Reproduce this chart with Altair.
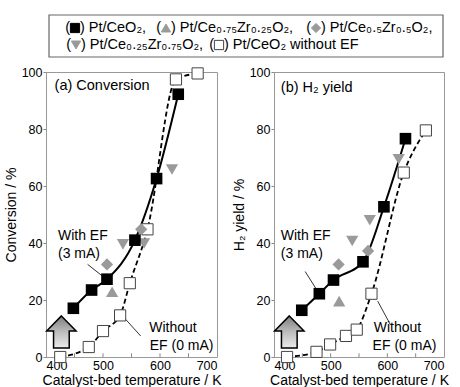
import altair as alt
import pandas as pd

FONT = "Liberation Sans"

# ---------------- data ----------------
# Panel (a) conversion
a_ef_t = [448, 480, 507, 556, 594, 632]
a_ef_v = [17.1, 23.5, 27.3, 41.0, 62.6, 92.2]
a_no_t = [425, 475, 500, 530, 547, 578, 628, 666]
a_no_v = [0.0, 3.5, 9.1, 14.6, 25.9, 44.8, 97.4, 99.5]
a_up_t = [516]
a_up_v = [22.9]
a_dia_t = [507, 567]
a_dia_v = [32.5, 44.8]
a_dn_t = [535, 572, 621]
a_dn_v = [39.5, 39.8, 65.8]

# Panel (b) H2 yield
b_ef_t = [449, 480, 505, 557, 594, 632]
b_ef_v = [16.4, 22.2, 27.0, 33.4, 52.7, 76.6]
b_no_t = [423, 475, 499, 527, 546, 572, 629, 668]
b_no_v = [0.0, 1.8, 4.4, 7.4, 9.6, 22.2, 64.7, 79.5]
b_up_t = [515]
b_up_v = [19.6]
b_dia_t = [514, 566]
b_dia_v = [32.5, 37.2]
b_dn_t = [538, 569, 620]
b_dn_v = [40.7, 48.0, 69.4]

x_ticks = [400, 500, 600, 700]
x_minor = [450, 500, 550, 600, 650]
y_ticks = [0, 20, 40, 60, 80, 100]
x_title = "Catalyst-bed temperature / K"

# annotations (text, T, value)
a_texts = ["(a) Conversion", "With EF", "(3 mA)", "Without", "EF (0 mA)"]
a_text_t = [415, 421, 421, 581, 582]
a_text_v = [95.0, 42.5, 36.1, 10.2, 3.9]
a_lead = [(473, 32.5, 499, 28.4), (537, 13.8, 566, 7.4)]

b_texts = ["(b) H\u2082 yield", "With EF", "(3 mA)", "Without", "EF (0 mA)"]
b_text_t = [412, 412, 412, 576, 574]
b_text_v = [94.4, 42.5, 36.1, 10.2, 3.9]
b_lead = [(455, 30.0, 475, 23.7), (583, 19.6, 605, 11.5)]

arrow_t = [427]
arrow_v = [8.8]

# legend entries
leg_shape = ["square", "triangle-up", "diamond", "triangle-down", "square"]
leg_fill = ["black", "#9a9a9a", "#9a9a9a", "#9a9a9a", "white"]
leg_stroke = ["black", "#9a9a9a", "#9a9a9a", "#9a9a9a", "#444"]
leg_labels = [") Pt/CeO\u2082,", ") Pt/Ce\u2080.\u2087\u2085Zr\u2080.\u2082\u2085O\u2082,",
              ") Pt/Ce\u2080.\u2085Zr\u2080.\u2085O\u2082,", ") Pt/Ce\u2080.\u2082\u2085Zr\u2080.\u2087\u2085O\u2082,",
              ") Pt/CeO\u2082 without EF"]
# legend layout (pixels relative to panel (a) plot origin)
leg_px = [29, 120, 270, 30, 173]
leg_py = [-44, -44, -44, -27, -27]

ARROW = "M0,-1 L0.92,-0.06 L0.49,-0.06 L0.49,1 L-0.49,1 L-0.49,-0.06 L-0.92,-0.06 Z"
GREY = "#9a9a9a"


def df(t, v):
    return pd.DataFrame({"T": t, "V": v})


def legend_layers():
    layers = []
    layers.append(alt.Chart(pd.DataFrame({"a": [0]})).mark_rect(
        fill="white", stroke="#666", strokeWidth=1.2).encode(
        x=alt.value(3), x2=alt.value(397), y=alt.value(-57), y2=alt.value(-15)))
    for i in range(len(leg_shape)):
        base = alt.Chart(pd.DataFrame({"a": [0]}))
        layers.append(base.mark_point(shape=leg_shape[i], filled=True, fill=leg_fill[i],
                                      stroke=leg_stroke[i], strokeWidth=1, size=85, opacity=1).encode(
            x=alt.value(leg_px[i]), y=alt.value(leg_py[i])))
        layers.append(base.mark_text(text="(", align="right", baseline="middle", fontSize=14.5,
                                     font=FONT, color="black").encode(
            x=alt.value(leg_px[i] - 5), y=alt.value(leg_py[i])))
        layers.append(base.mark_text(text=leg_labels[i], align="left", baseline="middle",
                                     fontSize=14.5, font=FONT, color="black").encode(
            x=alt.value(leg_px[i] + 5), y=alt.value(leg_py[i])))
    return layers


def panel(ef_t, ef_v, no_t, no_v, up_t, up_v, dia_t, dia_v, dn_t, dn_v,
          ytitle, texts, text_t, text_v, leads, width, with_legend=False):
    xenc = alt.X("T:Q", scale=alt.Scale(domain=[400, 700], nice=False, zero=False),
                 axis=alt.Axis(values=x_ticks, title=x_title, ticks=False, labelPadding=2,
                               titlePadding=2, domain=False, grid=False,
                               labelFontSize=12.5, titleFontSize=14, titleFontWeight="normal",
                               labelColor="black", titleColor="black", labelFont=FONT,
                               titleFont=FONT))
    yenc = alt.Y("V:Q", scale=alt.Scale(domain=[0, 100], nice=False, zero=False),
                 axis=alt.Axis(values=y_ticks, title=ytitle, tickSize=3, labelPadding=1,
                               titlePadding=3, domain=False, grid=False, tickColor="#888",
                               labelFontSize=12.5, titleFontSize=14, titleFontWeight="normal",
                               labelColor="black", titleColor="black", labelFont=FONT,
                               titleFont=FONT))
    ef = df(ef_t, ef_v)
    no = df(no_t, no_v)
    minor = alt.Chart(pd.DataFrame({"T": x_minor, "V": [0] * len(x_minor),
                                    "V2": [1.3] * len(x_minor)})).mark_rule(
        color="#888", strokeWidth=1).encode(x=xenc, y=yenc, y2="V2:Q")
    solid = alt.Chart(ef).mark_line(color="black", strokeWidth=2, interpolate="monotone").encode(x=xenc, y=yenc)
    dashed = alt.Chart(no).mark_line(color="black", strokeWidth=1.8, strokeDash=[5, 3],
                                     interpolate="monotone").encode(x=xenc, y=yenc)
    ld = pd.DataFrame(leads, columns=["T", "V", "T2", "V2"])
    leaders = alt.Chart(ld).mark_rule(color="#333", strokeWidth=1).encode(
        x=xenc, y=yenc, x2="T2:Q", y2="V2:Q")
    arrow = alt.Chart(df(arrow_t, arrow_v)).mark_point(
        shape=ARROW, size=1024, filled=True, opacity=1, stroke="black", strokeWidth=1.5,
        fill=alt.LinearGradient(gradient="linear", x1=0, y1=0, x2=0, y2=1,
                                stops=[alt.GradientStop(color="#7d7d7d", offset=0),
                                       alt.GradientStop(color="#bcbcbc", offset=0.5),
                                       alt.GradientStop(color="#ececec", offset=1)])
    ).encode(x=xenc, y=yenc)
    open_sq = alt.Chart(no).mark_point(shape="square", size=125, filled=True, fill="white",
                                       stroke="#444", strokeWidth=1, opacity=1).encode(x=xenc, y=yenc)
    up = alt.Chart(df(up_t, up_v)).mark_point(shape="triangle-up", size=150, filled=True,
                                               color=GREY, opacity=1).encode(x=xenc, y=yenc)
    dia = alt.Chart(df(dia_t, dia_v)).mark_point(shape="diamond", size=150, filled=True,
                                                  color=GREY, opacity=1).encode(x=xenc, y=yenc)
    dn = alt.Chart(df(dn_t, dn_v)).mark_point(shape="triangle-down", size=150, filled=True,
                                               color=GREY, opacity=1).encode(x=xenc, y=yenc)
    blk = alt.Chart(ef).mark_point(shape="square", size=135, filled=True, color="black",
                                   opacity=1).encode(x=xenc, y=yenc)
    tdf = pd.DataFrame({"T": text_t, "V": text_v, "txt": texts})
    lab = alt.Chart(tdf.iloc[:1]).mark_text(align="left", baseline="middle", fontSize=14.5,
                                            font=FONT, color="black").encode(x=xenc, y=yenc, text="txt:N")
    ann = alt.Chart(tdf.iloc[1:]).mark_text(align="left", baseline="middle", fontSize=14,
                                            font=FONT, color="black").encode(x=xenc, y=yenc, text="txt:N")
    layers = [minor, solid, dashed, leaders, arrow, open_sq, up, dia, dn, blk, lab, ann]
    if with_legend:
        layers += legend_layers()
    return alt.layer(*layers).properties(width=width, height=285)


pa = panel(a_ef_t, a_ef_v, a_no_t, a_no_v, a_up_t, a_up_v, a_dia_t, a_dia_v, a_dn_t, a_dn_v,
           "Conversion / %", a_texts, a_text_t, a_text_v, a_lead, 171, with_legend=True)
pb = panel(b_ef_t, b_ef_v, b_no_t, b_no_v, b_up_t, b_up_v, b_dia_t, b_dia_v, b_dn_t, b_dn_v,
           "H\u2082 yield / %", b_texts, b_text_t, b_text_v, b_lead, 170)

chart = alt.hconcat(pa, pb, spacing=57, bounds="flush").properties(
    padding={"left": 3, "top": 13, "right": 2, "bottom": 0}).configure_view(
    stroke="#999", strokeWidth=1)

chart.save("out.html", embed_options={"renderer": "svg", "actions": False})
